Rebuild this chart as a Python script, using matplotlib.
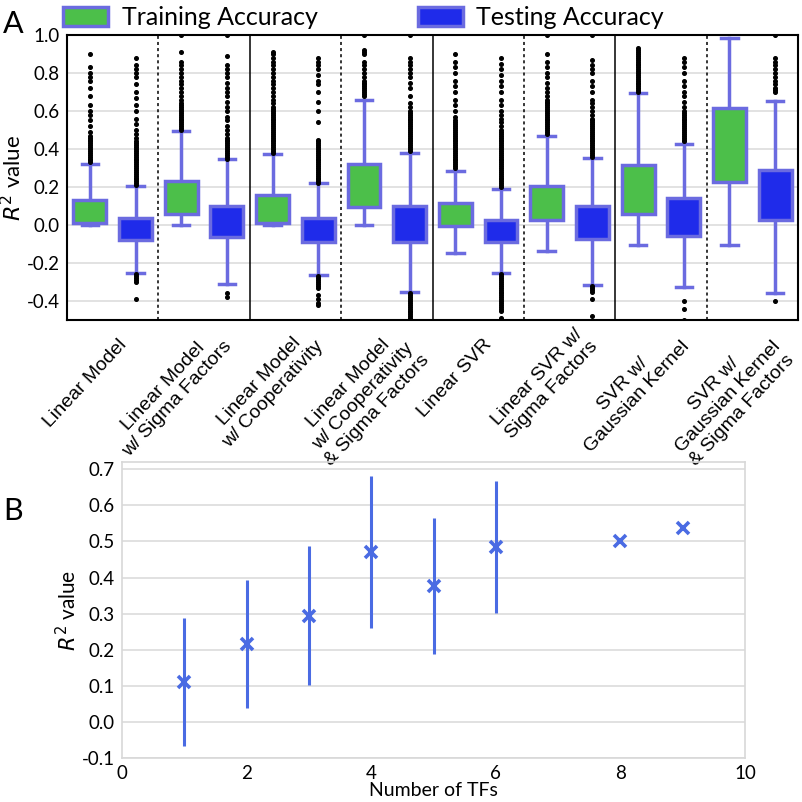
import matplotlib
matplotlib.use("Agg")
import numpy as np
import matplotlib.pyplot as plt
import matplotlib.transforms as mtransforms
from matplotlib.patches import Patch

plt.rcParams["font.family"] = ["Lato", "DejaVu Sans"]
plt.rcParams["axes.unicode_minus"] = False

# ===== DATA: panel A (box stats) =====
model_labels = [
    "Linear Model",
    "Linear Model\nw/ Sigma Factors",
    "Linear Model\nw/ Cooperativity",
    "Linear Model\nw/ Cooperativity\n& Sigma Factors",
    "Linear SVR",
    "Linear SVR w/\nSigma Factors",
    "SVR w/\nGaussian Kernel",
    "SVR w/\nGaussian Kernel\n& Sigma Factors",
]
# one entry per box, train/test alternating
whislo = [0.0, -0.255, 0.0, -0.312, 0.0, -0.265, 0.0, -0.352,
          -0.145, -0.255, -0.138, -0.316, -0.103, -0.328, -0.103, -0.356]
q1 = [0.008, -0.080, 0.056, -0.064, 0.010, -0.087, 0.094, -0.087,
      -0.003, -0.090, 0.025, -0.073, 0.059, -0.056, 0.224, 0.028]
med = [0.046, -0.038, 0.126, -0.007, 0.061, -0.038, 0.194, -0.018,
       0.029, -0.045, 0.093, -0.012, 0.143, 0.014, 0.414, 0.147]
q3 = [0.134, 0.035, 0.232, 0.101, 0.159, 0.037, 0.321, 0.101,
      0.115, 0.025, 0.203, 0.098, 0.318, 0.140, 0.616, 0.290]
whishi = [0.319, 0.206, 0.497, 0.346, 0.373, 0.221, 0.658, 0.379,
          0.286, 0.187, 0.468, 0.351, 0.693, 0.428, 0.986, 0.651]

fliers = [
    [0.33, 0.34, 0.35, 0.36, 0.37, 0.38, 0.39, 0.40, 0.41, 0.42, 0.43, 0.44, 0.45,
     0.46, 0.47, 0.49, 0.52, 0.555, 0.58, 0.60, 0.63, 0.68, 0.72, 0.76, 0.78, 0.80,
     0.83, 0.90],
    [0.21, 0.22, 0.23, 0.24, 0.25, 0.26, 0.27, 0.28, 0.29, 0.30, 0.31, 0.32, 0.33,
     0.34, 0.35, 0.36, 0.37, 0.38, 0.39, 0.40, 0.41, 0.42, 0.43, 0.44, 0.46, 0.48,
     0.50, 0.53, 0.56, 0.60, 0.63, 0.67, 0.70, 0.74, 0.78, 0.80, 0.82, 0.84, 0.88,
     -0.26, -0.27, -0.28, -0.29, -0.30, -0.39],
    [0.50, 0.51, 0.52, 0.53, 0.54, 0.55, 0.56, 0.57, 0.58, 0.59, 0.60, 0.61, 0.62,
     0.63, 0.64, 0.66, 0.68, 0.70, 0.72, 0.74, 0.76, 0.78, 0.80, 0.82, 0.84, 0.86,
     0.91, 1.0],
    [0.35, 0.36, 0.37, 0.38, 0.39, 0.40, 0.41, 0.42, 0.43, 0.44, 0.45, 0.46, 0.48,
     0.50, 0.52, 0.55, 0.57, 0.60, 0.62, 0.65, 0.68, 0.70, 0.72, 0.75, 0.78, 0.80,
     0.82, 0.84, 0.89, 1.0, -0.36, -0.38],
    [0.38, 0.39, 0.40, 0.41, 0.42, 0.43, 0.44, 0.45, 0.46, 0.47, 0.48, 0.49, 0.50,
     0.51, 0.52, 0.53, 0.54, 0.55, 0.56, 0.57, 0.58, 0.59, 0.60, 0.61, 0.62, 0.64,
     0.66, 0.68, 0.70, 0.72, 0.74, 0.76, 0.78, 0.80, 0.82, 0.84, 0.86, 0.88, 0.90,
     0.91],
    [0.22, 0.23, 0.24, 0.25, 0.26, 0.27, 0.28, 0.29, 0.30, 0.31, 0.32, 0.33, 0.34,
     0.35, 0.36, 0.37, 0.38, 0.39, 0.40, 0.41, 0.42, 0.43, 0.44, 0.45, 0.54, 0.60,
     0.65, 0.70, 0.74, 0.76, 0.79, 0.82, 0.84, 0.86, 0.88,
     -0.27, -0.28, -0.29, -0.30, -0.31, -0.32, -0.33, -0.37, -0.39, -0.41, -0.42],
    [0.68, 0.69, 0.70, 0.71, 0.72, 0.73, 0.74, 0.75, 0.76, 0.78, 0.80, 0.82, 0.84,
     0.86, 0.90, 0.91, 0.92, 1.0],
    [0.39, 0.40, 0.41, 0.42, 0.43, 0.44, 0.45, 0.46, 0.47, 0.48, 0.49, 0.50, 0.51,
     0.52, 0.53, 0.54, 0.55, 0.56, 0.57, 0.58, 0.59, 0.60, 0.62, 0.64, 0.68, 0.72,
     0.75, 0.78, 0.80, 0.82, 0.84, 0.86, 0.88, 1.0,
     -0.36, -0.37, -0.38, -0.39, -0.40, -0.41, -0.42, -0.43, -0.44, -0.45, -0.46,
     -0.47, -0.48, -0.49, -0.50],
    [0.30, 0.31, 0.32, 0.33, 0.34, 0.35, 0.36, 0.37, 0.38, 0.39, 0.40, 0.41, 0.42,
     0.43, 0.44, 0.45, 0.46, 0.47, 0.48, 0.49, 0.50, 0.51, 0.52, 0.53, 0.54, 0.55,
     0.57, 0.60, 0.63, 0.66, 0.70, 0.73, 0.76, 0.80, 0.83, 0.86, 0.90],
    [0.20, 0.21, 0.22, 0.23, 0.24, 0.25, 0.26, 0.27, 0.28, 0.29, 0.30, 0.31, 0.32,
     0.33, 0.34, 0.35, 0.36, 0.37, 0.38, 0.39, 0.40, 0.41, 0.42, 0.43, 0.44, 0.45,
     0.46, 0.47, 0.48, 0.49, 0.50, 0.52, 0.54, 0.56, 0.58, 0.60, 0.63, 0.66, 0.70,
     0.73, 0.76, 0.79, 0.82, 0.85, 0.88,
     -0.26, -0.27, -0.28, -0.29, -0.30, -0.31, -0.32, -0.33, -0.34, -0.35, -0.36,
     -0.37, -0.38, -0.39, -0.40, -0.41, -0.42, -0.43, -0.44, -0.45, -0.49],
    [0.48, 0.49, 0.50, 0.51, 0.52, 0.53, 0.54, 0.55, 0.56, 0.57, 0.58, 0.59, 0.60,
     0.61, 0.62, 0.63, 0.64, 0.65, 0.66, 0.68, 0.70, 0.72, 0.75, 0.78, 0.80, 0.83,
     0.86, 0.90, 1.0],
    [0.36, 0.37, 0.38, 0.39, 0.40, 0.41, 0.42, 0.43, 0.44, 0.45, 0.46, 0.47, 0.48,
     0.49, 0.50, 0.51, 0.52, 0.53, 0.54, 0.55, 0.56, 0.58, 0.60, 0.62, 0.64, 0.66,
     0.70, 0.73, 0.76, 0.80, 0.82, 0.84, 0.87, 1.0,
     -0.32, -0.33, -0.34, -0.35, -0.39, -0.48],
    [0.70, 0.71, 0.72, 0.73, 0.74, 0.75, 0.76, 0.77, 0.78, 0.79, 0.80, 0.81, 0.82,
     0.83, 0.84, 0.85, 0.86, 0.87, 0.88, 0.89, 0.90, 0.91, 0.92, 0.93],
    [0.44, 0.45, 0.46, 0.47, 0.48, 0.49, 0.50, 0.51, 0.52, 0.53, 0.54, 0.55, 0.56,
     0.57, 0.58, 0.59, 0.60, 0.62, 0.65, 0.68, 0.70, 0.73, 0.76, 0.80, 0.83, 0.86,
     0.88, -0.40, -0.44, -0.50],
    [],
    [0.70, 0.71, 0.72, 0.74, 0.76, 0.78, 0.80, 0.82, 0.84, 0.86, 0.88, 1.0, -0.40],
]

# ===== DATA: panel B =====
n_tfs = [1, 2, 3, 4, 5, 6, 8, 9]
r2_mean = [0.111, 0.216, 0.294, 0.470, 0.376, 0.484, 0.500, 0.537]
r2_low = [-0.067, 0.038, 0.102, 0.260, 0.188, 0.301, np.nan, np.nan]
r2_high = [0.287, 0.393, 0.486, 0.681, 0.564, 0.667, np.nan, np.nan]

GREEN = "#4cbf4a"
BLUE = "#1f2bea"
EDGE = "#6b6be0"
MEDIAN = "#c6f27a"

fig = plt.figure(figsize=(8.02, 8.02), dpi=100)

# ----- panel A -----
axA = fig.add_axes([67 / 802, 1 - 320 / 802, 731 / 802, 285 / 802])
stats = []
for i in range(len(med)):
    stats.append(dict(whislo=whislo[i], q1=q1[i], med=med[i], q3=q3[i],
                      whishi=whishi[i], fliers=fliers[i]))
positions = np.arange(1, len(med) + 1)
bp = axA.bxp(stats, positions=positions, widths=0.72, patch_artist=True,
             boxprops=dict(edgecolor=EDGE, linewidth=2.5),
             whiskerprops=dict(color=EDGE, linewidth=2.5),
             capprops=dict(color=EDGE, linewidth=2.5),
             medianprops=dict(color=MEDIAN, linewidth=2.2),
             flierprops=dict(marker="o", markerfacecolor="black",
                             markeredgecolor="black", markersize=2.6))
for i, box in enumerate(bp["boxes"]):
    box.set_facecolor(GREEN if i % 2 == 0 else BLUE)
    box.set_zorder(3)

for xs in [2.5, 6.5, 10.5, 14.5]:
    axA.axvline(xs, color="black", linestyle=(0, (2, 2)), linewidth=1.1)
for xs in [4.5, 8.5, 12.5]:
    axA.axvline(xs, color="black", linewidth=1.1)

axA.set_xlim(0.5, 16.5)
axA.set_ylim(-0.5, 1.0)
axA.set_yticks([-0.4, -0.2, 0.0, 0.2, 0.4, 0.6, 0.8, 1.0])
axA.set_yticklabels(["-0.4", "-0.2", "0.0", "0.2", "0.4", "0.6", "0.8", "1.0"])
axA.yaxis.grid(True, color="#dddddd", linewidth=1.2)
axA.set_axisbelow(True)
axA.tick_params(length=0, labelsize=13.5, pad=5)
axA.set_xticks([])
for sp in axA.spines.values():
    sp.set_linewidth(1.5)
axA.set_ylabel(r"$R^2$ value", fontsize=16, labelpad=1)

# model names, rotated, hanging below each train/test pair
base = mtransforms.blended_transform_factory(axA.transData, axA.transAxes)
for k, name in enumerate(model_labels):
    if "\n" in name:
        dx, dy = 5, -5
    else:
        dx, dy = 5, -16
    tr = base + mtransforms.ScaledTranslation(dx / 100, dy / 100, fig.dpi_scale_trans)
    axA.text(positions[2 * k] + 0.5, 0, name, transform=tr, rotation=47,
             rotation_mode="anchor", ha="right", va="top", multialignment="center",
             family=["Liberation Sans", "DejaVu Sans"], fontsize=14,
             linespacing=1.18)

handles = [Patch(facecolor=GREEN, edgecolor=EDGE, linewidth=2.5),
           Patch(facecolor=BLUE, edgecolor=EDGE, linewidth=2.5)]
fig.legend(handles, ["Training Accuracy", "Testing Accuracy"], ncol=2,
           loc="upper left", bbox_to_anchor=(63 / 802, 1 - 6 / 802), frameon=False,
           fontsize=18, handlelength=1.8, handleheight=0.8, borderpad=0,
           borderaxespad=0, columnspacing=4.0, handletextpad=0.55)

fig.text(3 / 802, 1 - 24 / 802, "A", fontsize=22, va="center", ha="left")
fig.text(3 / 802, 1 - 511 / 802, "B", fontsize=22, va="center", ha="left")

# ----- panel B -----
axB = fig.add_axes([122 / 802, 1 - 758 / 802, 623 / 802, 296 / 802])
axB.patch.set_alpha(0)
mean = np.array(r2_mean)
yerr = [mean - np.array(r2_low), np.array(r2_high) - mean]
axB.errorbar(n_tfs, r2_mean, yerr=yerr, fmt="x", color="#4a6be3",
             markersize=9, markeredgewidth=2.6, elinewidth=2.2, capsize=0)
axB.set_xlim(0, 10)
axB.set_ylim(-0.1, 0.72)
axB.set_xticks([0, 2, 4, 6, 8, 10])
axB.set_yticks([-0.1, 0.0, 0.1, 0.2, 0.3, 0.4, 0.5, 0.6, 0.7])
axB.set_yticklabels(["-0.1", "0.0", "0.1", "0.2", "0.3", "0.4", "0.5", "0.6", "0.7"])
axB.yaxis.grid(True, color="#dcdcdc", linewidth=1.2)
axB.set_axisbelow(True)
axB.tick_params(length=0, labelsize=13.5, pad=5)
for sp in axB.spines.values():
    sp.set_color("#d8d8d8")
    sp.set_linewidth(1.2)
axB.set_xlabel("Number of TFs", fontsize=14, labelpad=0)
axB.set_ylabel(r"$R^2$ value", fontsize=15, labelpad=1)

fig.savefig("out.png", dpi=100)
